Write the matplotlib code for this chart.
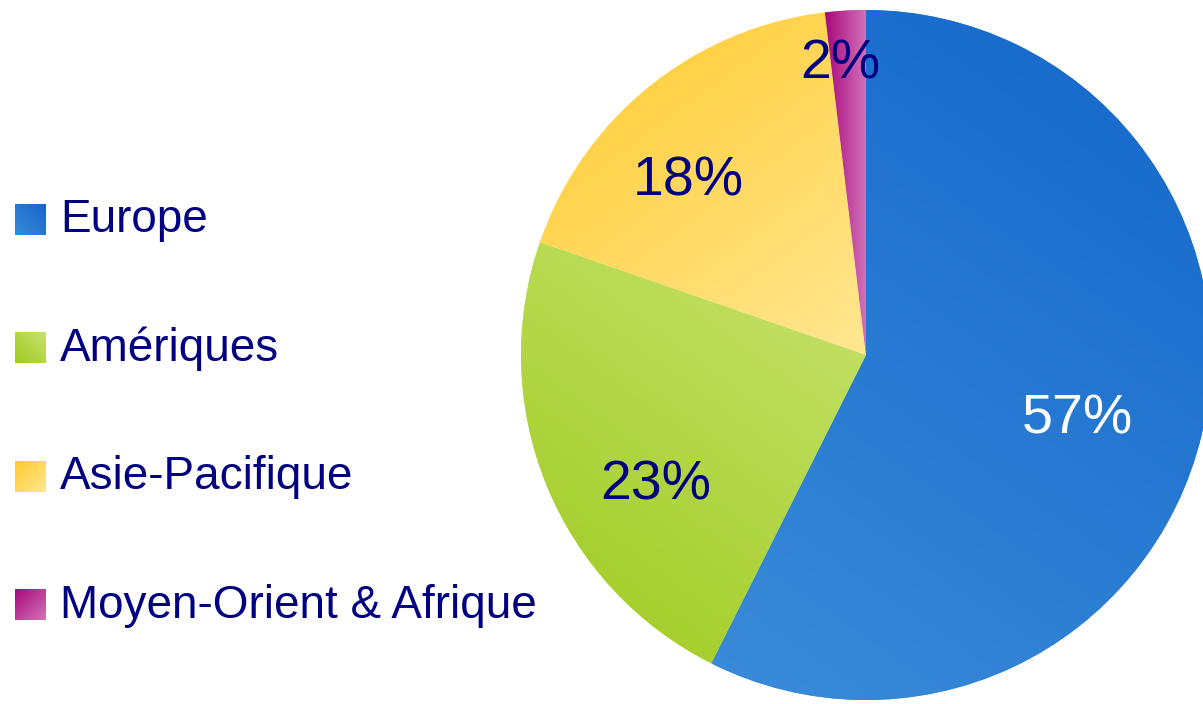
import numpy as np
import matplotlib.pyplot as plt
from matplotlib.patches import Rectangle

plt.rcParams['font.family'] = ['Liberation Sans', 'DejaVu Sans']

# data
regions = ['Europe', 'Amériques', 'Asie-Pacifique', 'Moyen-Orient & Afrique']
shares = [57.4, 22.9, 17.8, 1.9]
pct_labels = ['57%', '23%', '18%', '2%']

# gradient colours per slice (dark end, light end, direction dark->light)
dark_cols = ['#1266ca', '#9eca1e', '#ffca2c', '#a8087a']
light_cols = ['#3a8bd9', '#c8e370', '#ffe792', '#d274ba']
grad_dirs = [(-0.5, -1.0), (0.6, 1.0), (0.7, -1.0), (1.0, 0.0)]
legend_dirs = [(-1.0, -1.0), (1.0, 1.0), (1.0, -1.0), (1.0, -1.0)]
label_cols = ['white', '#000080', '#000080', '#000080']
label_dist = [0.64, 0.716, 0.72, 0.845]
label_shift = [-3.6, 9.7, 6.8, 1.7]

W, H = 1203, 704
navy = '#000080'


def hex2rgb(h):
    h = h.lstrip('#')
    return np.array([int(h[i:i + 2], 16) / 255 for i in (0, 2, 4)])


def gradient(c0, c1, d, n=200):
    x, y = np.meshgrid(np.linspace(0, 1, n), np.linspace(0, 1, n))
    t = (x - 0.5) * d[0] + (y - 0.5) * d[1]
    t = (t - t.min()) / (t.max() - t.min())
    a, b = hex2rgb(c0), hex2rgb(c1)
    return a[None, None, :] * (1 - t[..., None]) + b[None, None, :] * t[..., None]


fig = plt.figure(figsize=(W / 100, H / 100), dpi=100)
ax = fig.add_axes([0, 0, 1, 1])

cx, cy, r = 866, H - 355, 345
wedges, _ = ax.pie(shares, colors=light_cols, startangle=90, counterclock=False,
                   center=(cx, cy), radius=r, wedgeprops=dict(linewidth=0))

for i, w in enumerate(wedges):
    ext = w.get_path().get_extents()
    img = ax.imshow(gradient(dark_cols[i], light_cols[i], grad_dirs[i]), origin='lower',
                    extent=[ext.x0, ext.x1, ext.y0, ext.y1], interpolation='bilinear', zorder=2)
    img.set_clip_path(w)
    mid = np.deg2rad((w.theta1 + w.theta2) / 2 + label_shift[i])
    ax.text(cx + label_dist[i] * r * np.cos(mid), cy + label_dist[i] * r * np.sin(mid),
            pct_labels[i], color=label_cols[i], fontsize=40, ha='center', va='center', zorder=3)

# legend
for i, name in enumerate(regions):
    yc = H - (219.5 + 128.4 * i)
    sq = Rectangle((15, yc - 15.5), 31, 31, facecolor=light_cols[i], linewidth=0, zorder=2)
    ax.add_patch(sq)
    img = ax.imshow(gradient(dark_cols[i], light_cols[i], legend_dirs[i]), origin='lower',
                    extent=[15, 46, yc - 15.5, yc + 15.5], interpolation='bilinear', zorder=3)
    img.set_clip_path(sq)
    ax.text(60, yc - 1, name, color=navy, fontsize=33, ha='left', va='center', zorder=3)

ax.set_xlim(0, W)
ax.set_ylim(0, H)
ax.set_aspect('equal')
ax.axis('off')

plt.savefig('out.png', dpi=100)
